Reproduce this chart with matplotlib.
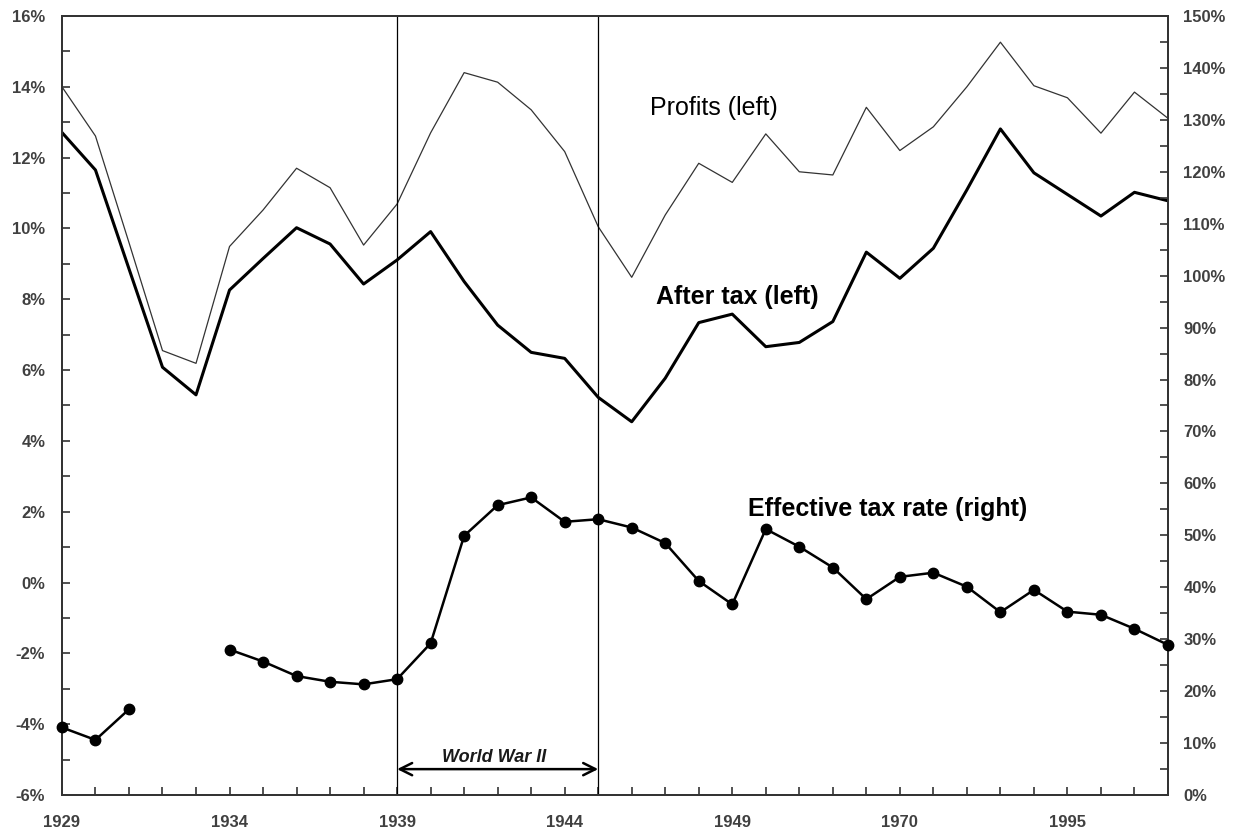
import numpy as np
import matplotlib
matplotlib.use("Agg")
import matplotlib.pyplot as plt

plt.rcParams['font.family'] = ['Liberation Sans', 'DejaVu Sans']

# categories: annual to 1949, then every 5 years
years = list(range(1929, 1950)) + list(range(1950, 2011, 5))

# profits, % (left axis)
profits = [14.0, 12.61, 9.6, 6.55, 6.19, 9.49, 10.52, 11.70, 11.15, 9.53,
           10.69, 12.70, 14.40, 14.13, 13.35, 12.17, 10.05, 8.62, 10.38, 11.84,
           11.30, 12.67, 11.60, 11.51, 13.42, 12.20, 12.87, 14.0, 15.26, 14.03,
           13.69, 12.69, 13.85, 13.11]

# after tax profits, % (left axis)
after_tax = [12.71, 11.65, 8.86, 6.08, 5.30, 8.26, 9.15, 10.02, 9.56, 8.43,
             9.11, 9.91, 8.50, 7.27, 6.50, 6.33, 5.23, 4.54, 5.77, 7.34,
             7.58, 6.66, 6.78, 7.37, 9.33, 8.59, 9.44, 11.09, 12.81, 11.57,
             10.96, 10.35, 11.02, 10.78]

# effective tax rate, % (right axis), no value for 1932-1933
tax_rate = [13.0, 10.6, 16.5, np.nan, np.nan, 28.0, 25.7, 22.9, 21.8, 21.3,
            22.3, 29.2, 49.9, 55.8, 57.3, 52.6, 53.1, 51.5, 48.5, 41.2,
            36.7, 51.2, 47.8, 43.8, 37.7, 42.0, 42.8, 40.1, 35.2, 39.5,
            35.3, 34.7, 32.0, 28.9]

war_start = 1939
war_end = 1945

x = np.arange(len(years))
tick_col = '#404040'
spine_col = '#333333'

fig, ax = plt.subplots(figsize=(12.34, 8.32), dpi=100)
fig.subplots_adjust(left=0.0502, right=0.9465, top=0.9808, bottom=0.0445)
ax2 = ax.twinx()

ax.plot(x, profits, color='#333333', linewidth=0.9)
ax.plot(x, after_tax, color='black', linewidth=2.2)
ax2.plot(x, tax_rate, color='black', linewidth=1.8, marker='o', markersize=7.5,
         clip_on=False, zorder=5)

# world war II markers
i0 = years.index(war_start)
i1 = years.index(war_end)
ax.axvline(i0, color='black', linewidth=0.9)
ax.axvline(i1, color='black', linewidth=0.9)
ax.annotate('', xy=(i0, -5.27), xytext=(i1, -5.27),
            arrowprops=dict(arrowstyle='<->', color='black', lw=1.8,
                            mutation_scale=22, shrinkA=0, shrinkB=0))
ax.text(12.89, -5.07, 'World War II', ha='center', va='baseline',
        fontsize=13, fontweight='bold', fontstyle='italic', color='#1a1a1a')

# series labels
ax.text(17.54, 13.40, 'Profits (left)', ha='left', va='center', fontsize=18)
ax.text(17.72, 8.06, 'After tax (left)', ha='left', va='center',
        fontsize=18, fontweight='bold')
ax2.text(20.46, 55.1, 'Effective tax rate (right)', ha='left', va='center',
         fontsize=18, fontweight='bold')

# axes
ax.set_xlim(0, len(years) - 1)
ax.set_ylim(-6, 16)
ax2.set_ylim(0, 150)

ax.set_xticks(x)
ax.set_xticklabels([str(y) if i % 5 == 0 else '' for i, y in enumerate(years)])
ax.set_yticks(np.arange(-6, 17, 2))
ax.set_yticks(np.arange(-5, 16, 2), minor=True)
ax.set_yticklabels([f'{v}%' for v in range(-6, 17, 2)])
ax2.set_yticks(np.arange(0, 151, 10))
ax2.set_yticks(np.arange(5, 150, 10), minor=True)
ax2.set_yticklabels([f'{v}%' for v in range(0, 151, 10)])

ax.tick_params(axis='x', direction='in', length=6, width=1.2, color=spine_col,
               pad=14.5, labelsize=12, labelcolor=tick_col)
ax.tick_params(axis='y', which='both', direction='in', length=6, width=1.2,
               color=spine_col, pad=12, labelsize=12, labelcolor=tick_col)
ax2.tick_params(axis='y', which='both', direction='in', length=6, width=1.2,
                color=spine_col, pad=11, labelsize=12, labelcolor=tick_col)
for lab in ax.get_xticklabels() + ax.get_yticklabels() + ax2.get_yticklabels():
    lab.set_fontweight('bold')

for a in (ax, ax2):
    for s in a.spines.values():
        s.set_color(spine_col)
        s.set_linewidth(1.3)

fig.savefig('out.png', dpi=100)
